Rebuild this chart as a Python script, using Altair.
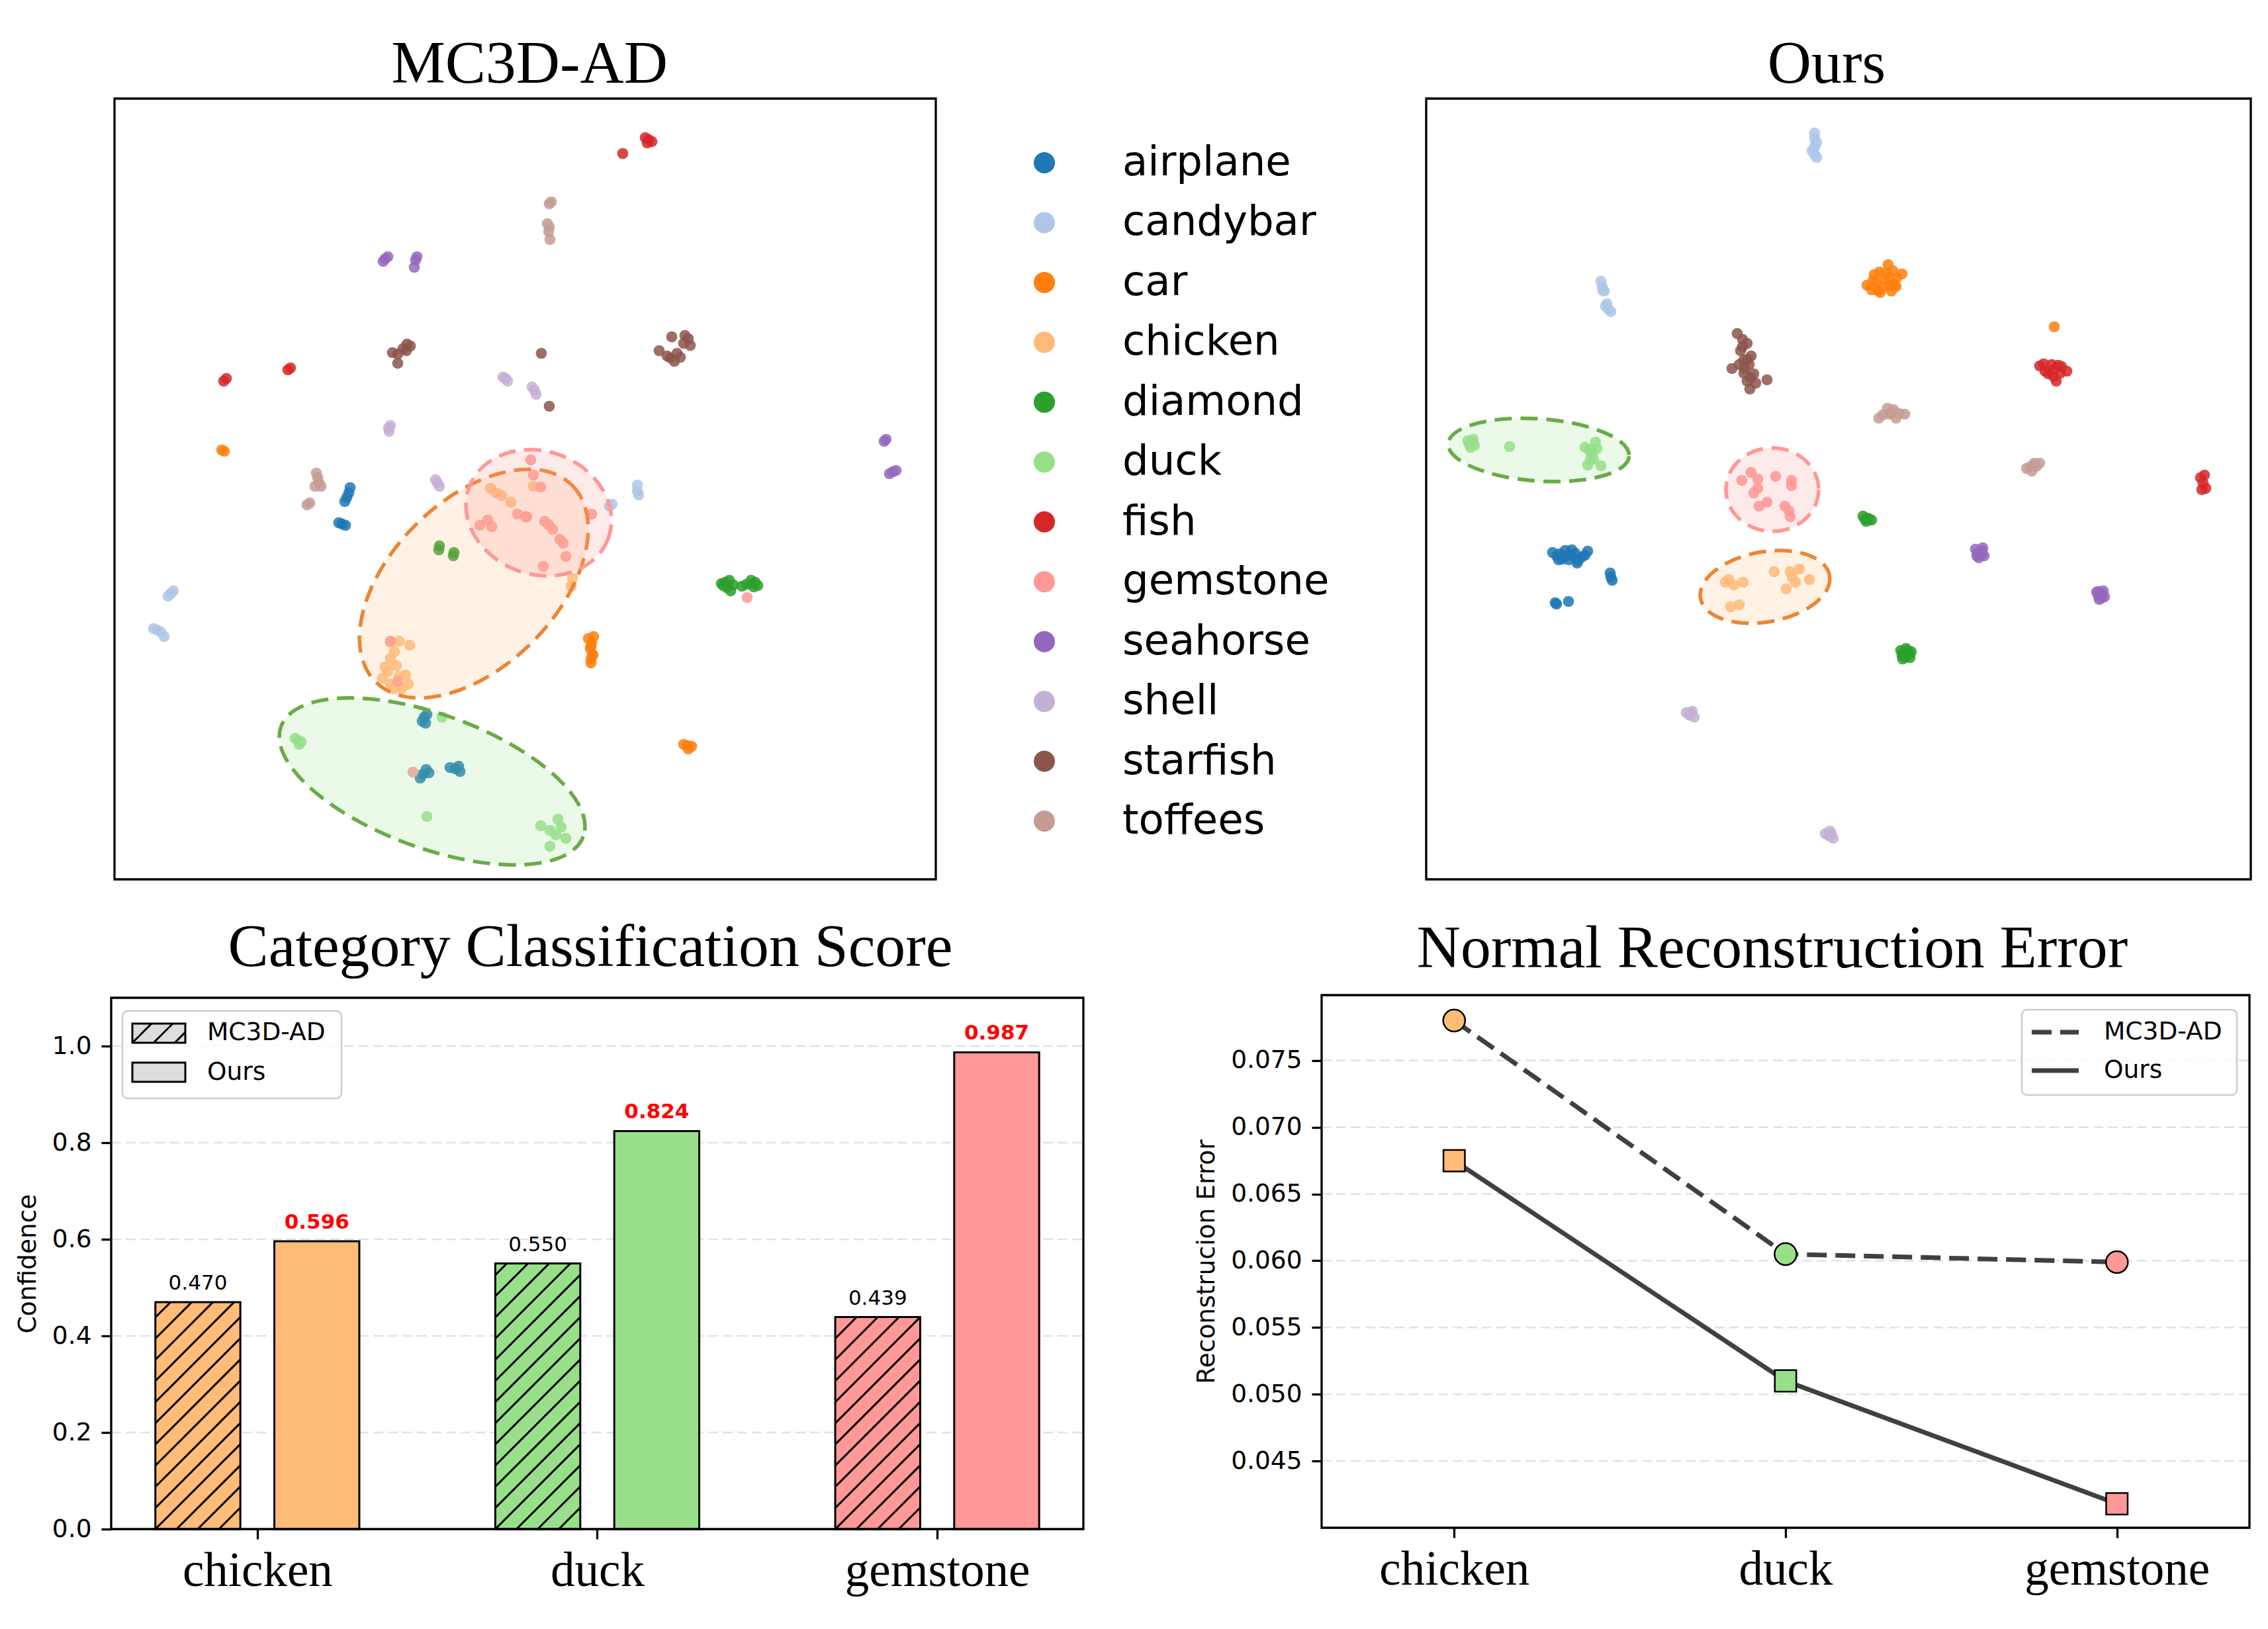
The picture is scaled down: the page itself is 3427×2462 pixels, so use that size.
import json
import altair as alt
import pandas as pd

# ---------------------------------------------------------------- data
CATS = ["airplane", "candybar", "car", "chicken", "diamond", "duck",
        "fish", "gemstone", "seahorse", "shell", "starfish", "toffees"]
PALETTE = ["#1f77b4", "#aec7e8", "#ff7f0e", "#ffbb78", "#2ca02c", "#98df8a",
           "#d62728", "#ff9896", "#9467bd", "#c5b0d5", "#8c564b", "#c49c94"]

# t-SNE embedding, MC3D-AD panel: (x, y) per sample
MC3D_AIRPLANE = [(35.4, 58.4), (35.6, 59.2), (35.1, 57.7), (34.8, 57.1), (34.4, 53.7), (34.9, 53.5), (33.9, 53.9),
                 (46.8, 24.5), (47.2, 24.9), (46.5, 23.9), (47.0, 23.6), (46.6, 15.9), (47.1, 16.6), (46.2, 15.3),
                 (47.5, 16.1), (51.5, 16.7), (50.7, 16.9), (52.2, 16.3), (52.0, 17.1)]
MC3D_CANDYBAR = [(8.5, 43.2), (8.9, 43.6), (8.1, 42.8), (6.4, 37.7), (5.9, 37.9), (7.0, 37.4), (7.5, 36.7),
                 (79.0, 58.7), (79.0, 59.6), (79.2, 58.1), (74.8, 56.4), (75.2, 56.7)]
MC3D_CAR = [(16.2, 64.9), (16.6, 64.7), (72.1, 35.8), (71.9, 34.9), (72.3, 33.9), (72.0, 32.7), (71.6, 36.4),
            (72.4, 36.7), (72.0, 35.2), (72.2, 34.0), (72.0, 33.3),
            (86.6, 20.2), (86.0, 20.4), (87.2, 20.1), (86.7, 19.7)]
MC3D_CHICKEN = [(41.7, 35.8), (43.0, 36.0), (44.6, 35.4), (41.7, 33.4), (42.6, 32.3), (40.9, 32.1), (43.0, 30.7),
                (40.5, 30.4), (44.0, 30.9), (41.7, 29.5), (44.4, 29.5), (43.4, 28.8), (42.1, 28.8), (42.3, 34.4),
                (41.3, 31.4), (56.8, 59.1), (58.5, 58.0), (59.9, 57.0), (63.3, 59.4), (69.2, 45.5), (69.0, 44.3),
                (57.7, 58.4)]
MC3D_DIAMOND = [(49.0, 49.8), (49.1, 50.4), (51.2, 48.9), (51.3, 49.4), (92.3, 44.9), (91.7, 44.7), (92.9, 45.2),
                (93.1, 43.6), (92.5, 44.1), (96.8, 44.9), (96.2, 45.2), (97.2, 44.4), (96.6, 44.2), (94.8, 44.3),
                (92.0, 44.4), (96.4, 44.7), (93.5, 44.5), (95.5, 44.6)]
MC3D_DUCK = [(27.7, 21.0), (27.3, 21.3), (28.2, 20.8), (27.9, 20.4), (49.5, 24.5), (47.2, 9.5), (65.8, 7.4),
             (67.0, 9.1), (68.2, 6.2), (64.4, 8.1), (65.8, 5.0), (67.5, 7.9), (66.7, 6.7)]
MC3D_FISH = [(16.5, 75.3), (16.9, 75.7), (26.2, 77.0), (26.6, 77.3), (80.7, 111.8), (80.2, 112.1), (81.2, 111.5),
             (80.5, 111.3), (76.8, 109.7)]
MC3D_GEMSTONE = [(60.9, 55.2), (62.1, 54.8), (56.4, 54.3), (55.2, 53.5), (57.0, 53.3), (62.3, 54.8), (65.0, 54.1),
                 (66.2, 52.9), (67.8, 50.8), (68.2, 48.8), (72.1, 55.2), (64.8, 47.3), (64.4, 59.3), (62.9, 63.4),
                 (63.3, 61.1), (67.3, 51.4), (65.6, 53.6), (41.7, 36.0), (42.8, 29.9), (45.1, 16.2), (95.6, 42.6)]
MC3D_SEAHORSE = [(40.9, 93.8), (41.3, 94.1), (40.6, 93.4), (45.5, 93.6), (45.3, 92.5), (45.7, 94.1),
                 (116.3, 66.2), (116.6, 66.5), (117.6, 61.6), (117.1, 61.3), (118.1, 61.8)]
MC3D_SHELL = [(59.1, 75.7), (58.7, 75.9), (59.4, 75.3), (63.5, 73.9), (63.1, 74.4), (63.7, 73.3),
              (41.4, 68.2), (41.7, 68.6), (41.5, 67.7), (48.8, 59.9), (48.5, 60.4), (49.1, 59.4)]
MC3D_STARFISH = [(43.6, 80.2), (42.8, 79.4), (42.0, 79.6), (44.2, 80.9), (44.7, 80.6), (42.8, 78.0), (44.1, 79.9),
                 (64.5, 79.5), (86.2, 82.2), (86.7, 81.7), (87.0, 80.7), (84.2, 82.0), (82.3, 79.9), (83.5, 79.1),
                 (84.6, 78.3), (85.5, 78.9), (85.0, 79.5), (84.0, 78.8), (86.0, 81.0), (65.7, 71.5)]
MC3D_TOFFEES = [(30.7, 60.7), (30.5, 61.4), (30.9, 59.9), (30.3, 59.4), (31.2, 59.4), (29.1, 56.6), (29.5, 56.9),
                (65.7, 102.1), (66.0, 102.4), (65.6, 97.9), (65.4, 99.1), (65.8, 96.7), (65.7, 98.6)]

# t-SNE embedding, Ours panel
OURS_AIRPLANE = [(21.9, 49.0), (19.1, 49.4), (24.4, 49.6), (22.8, 47.8), (20.5, 48.4), (21.0, 49.7), (23.5, 48.7),
                 (19.7, 48.9), (20.2, 49.2), (22.5, 49.3), (23.0, 48.2), (21.5, 48.3), (24.0, 49.0), (20.0, 48.3),
                 (22.0, 49.8), (21.2, 48.9),
                 (27.9, 45.7), (27.8, 46.3), (28.1, 45.2), (19.5, 41.8), (21.5, 42.0), (19.7, 41.6)]
OURS_CANDYBAR = [(58.7, 112.0), (58.7, 112.8), (59.0, 111.4), (58.8, 111.0), (58.6, 110.5), (58.7, 109.5),
                 (58.3, 110.1), (59.0, 109.1), (26.6, 89.6), (26.4, 90.4), (26.9, 88.9), (26.7, 89.0),
                 (27.5, 86.2), (27.1, 86.6), (27.9, 85.8), (27.3, 87.0)]
OURS_CAR = [(69.2, 90.6), (66.6, 89.8), (71.9, 91.5), (68.6, 88.7), (69.8, 92.9), (67.7, 91.4), (70.7, 89.9),
            (67.3, 89.1), (70.3, 88.9), (71.1, 90.9), (68.0, 90.2), (70.0, 91.0), (69.0, 89.5), (68.5, 91.8),
            (70.5, 92.0), (67.5, 90.5), (69.5, 91.6), (71.0, 89.6), (68.2, 89.0), (70.0, 89.8), (94.9, 83.5)]
OURS_CHICKEN = [(45.2, 44.9), (47.9, 44.9), (46.0, 41.2), (52.6, 46.5), (55.0, 46.5), (55.8, 44.9), (57.9, 45.3),
                (54.4, 43.9), (56.4, 46.9), (45.7, 45.3), (47.3, 41.5), (46.5, 44.5), (55.3, 45.7)]
OURS_DIAMOND = [(66.6, 54.6), (66.0, 54.9), (67.3, 54.3), (66.5, 54.1), (66.9, 54.5), (66.3, 54.4),
                (72.5, 34.0), (71.7, 34.6), (73.3, 34.4), (72.0, 33.3), (73.1, 33.5), (72.5, 34.9),
                (72.0, 34.2), (73.0, 34.0), (72.4, 33.6), (72.8, 34.6), (71.9, 33.8)]
OURS_DUCK = [(6.8, 65.9), (6.3, 66.3), (7.3, 65.6), (6.7, 65.3), (7.1, 66.5), (6.5, 65.8), (7.0, 66.0),
             (12.6, 65.4), (24.6, 64.9), (25.6, 66.1), (24.0, 65.3), (25.1, 64.3), (26.4, 62.5), (24.4, 62.6),
             (25.8, 65.1), (25.0, 65.0), (25.3, 63.5), (24.8, 63.5)]
OURS_FISH = [(94.7, 77.0), (92.7, 77.6), (96.8, 76.8), (95.2, 75.3), (94.0, 76.4), (95.5, 77.7), (93.5, 76.8),
             (95.8, 76.5), (94.5, 77.8), (94.8, 76.0), (96.0, 77.5), (93.3, 77.9),
             (117.4, 59.9), (117.0, 60.7), (117.8, 59.1), (117.2, 58.9), (117.6, 61.1)]
OURS_GEMSTONE = [(49.1, 61.5), (47.7, 60.3), (50.1, 60.5), (52.8, 60.9), (55.2, 60.3), (50.1, 59.1), (55.2, 59.5),
                 (50.3, 56.4), (51.5, 57.0), (54.2, 56.4), (55.0, 54.8), (49.5, 58.4), (54.8, 55.7)]
OURS_SEAHORSE = [(83.7, 49.4), (83.0, 49.9), (84.3, 48.9), (83.5, 48.6), (84.1, 50.1), (83.4, 49.3), (83.9, 49.0),
                 (84.0, 49.7), (83.2, 48.9), (101.9, 43.0), (101.3, 43.4), (102.5, 42.7), (101.7, 42.3),
                 (102.3, 43.6), (101.6, 42.8), (102.1, 43.2), (102.0, 42.5), (101.5, 43.5)]
OURS_SHELL = [(39.9, 24.9), (39.3, 25.2), (40.5, 24.5), (40.2, 25.4), (39.8, 24.8), (40.0, 25.1),
              (60.9, 6.6), (60.3, 6.9), (61.5, 6.2), (61.0, 7.3), (60.8, 6.7), (61.2, 6.9)]
OURS_STARFISH = [(47.0, 82.5), (48.5, 81.0), (49.1, 79.1), (48.1, 77.2), (48.5, 75.3), (46.2, 77.2), (51.5, 75.5),
                 (48.9, 74.1), (47.5, 79.9), (49.5, 76.4), (47.8, 80.5), (48.0, 78.5), (48.8, 77.8), (47.3, 77.8),
                 (49.0, 75.8), (49.8, 75.0), (48.0, 76.5), (47.8, 81.6), (48.6, 78.6)]
OURS_TOFFEES = [(70.3, 70.5), (68.4, 69.7), (72.3, 70.3), (69.7, 71.2), (71.0, 69.7), (70.0, 70.3), (71.5, 70.4),
                (69.0, 70.2), (70.6, 71.0), (91.7, 62.6), (90.7, 62.1), (92.7, 62.9), (91.5, 61.7),
                (91.2, 62.3), (92.2, 62.4), (91.9, 62.9)]

# highlighted regions: (category, centre x, centre y, semi-major, semi-minor, rotation deg)
MC3D_REGIONS = [("duck", 48.0, 14.8, 24.3, 10.1, 20), ("chicken", 54.3, 44.7, 21.0, 12.5, 315),
                ("gemstone", 64.1, 55.4, 11.2, 9.3, 20)]
OURS_REGIONS = [("duck", 17.0, 64.9, 13.7, 4.7, 4), ("gemstone", 52.3, 58.9, 7.0, 6.3, 0),
                ("chicken", 51.2, 44.2, 9.9, 5.3, 350)]

BAR_CATS = ["chicken", "duck", "gemstone"]
BAR_MC3D = [0.470, 0.550, 0.439]
BAR_OURS = [0.596, 0.824, 0.987]
BAR_YTICKS = [0.0, 0.2, 0.4, 0.6, 0.8, 1.0]

ERR_MC3D = [0.0780, 0.0605, 0.0599]
ERR_OURS = [0.0675, 0.0510, 0.0418]
ERR_YTICKS = [0.045, 0.050, 0.055, 0.060, 0.065, 0.070, 0.075]

# ---------------------------------------------------------------- layout (view pixels)
VIEW_W, VIEW_H = 3405, 2440
TL_BOX = (165, 1406, 141, 1321)     # x0, x1, ytop, ybottom
TR_BOX = (2147, 3393, 141, 1321)
BL_BOX = (160, 1629, 1500, 2303)
BR_BOX = (1989, 3391, 1496, 2301)
TSNE_XDOM_L = [0, 124.1]
TSNE_XDOM_R = [0, 124.6]
TSNE_YDOM = [0, 118]
BAR_XDOM = [-0.43, 2.43]
BAR_YDOM = [0, 1.1]
ERR_XDOM = [-0.4, 2.4]
ERR_YDOM = [0.0400, 0.0799]
BAR_OFFSET, BAR_WIDTH = 0.175, 0.25

SERIF = "Liberation Serif"
SANS = "DejaVu Sans"
COLOR = alt.Scale(domain=CATS, range=PALETTE)
REGION_STYLE = {"chicken": ("#ffbb78", "#ee8533"), "gemstone": ("#ff9896", "#ff9896"),
                "duck": ("#98df8a", "#6aab46")}


def xs(dom, box):
    return alt.Scale(domain=dom, range=[box[0], box[1]], nice=False, zero=False)


def ys(dom, box):
    return alt.Scale(domain=dom, range=[box[3], box[2]], nice=False, zero=False)


def one():
    return pd.DataFrame({"k": [0]})


def tsne_df(lists):
    rows = []
    for cat, pts in zip(CATS, lists):
        for x, y in pts:
            rows.append({"cat": cat, "x": x, "y": y})
    return pd.DataFrame(rows)


def scatter(df, xdom, box):
    return alt.Chart(df).mark_circle(size=280, opacity=0.85).encode(
        x=alt.X("x:Q", scale=xs(xdom, box), axis=None),
        y=alt.Y("y:Q", scale=ys(TSNE_YDOM, box), axis=None),
        color=alt.Color("cat:N", scale=COLOR, legend=None),
    )


def ellipse(region, xdom, box):
    cat, cx, cy, a, b, ang = region
    ppu = (box[1] - box[0]) / (xdom[1] - xdom[0])
    r = b / a
    k = 0.5523
    path = (f"M 1 0 C 1 {k*r:.4f} {k:.4f} {r:.4f} 0 {r:.4f} "
            f"C {-k:.4f} {r:.4f} -1 {k*r:.4f} -1 0 "
            f"C -1 {-k*r:.4f} {-k:.4f} {-r:.4f} 0 {-r:.4f} "
            f"C {k:.4f} {-r:.4f} 1 {-k*r:.4f} 1 0 Z")
    fill, stroke = REGION_STYLE[cat]
    return alt.Chart(pd.DataFrame({"x": [cx], "y": [cy]})).mark_point(
        shape=path, size=(2 * a * ppu) ** 2, angle=ang, filled=True, fill=fill, fillOpacity=0.2,
        stroke=stroke, strokeOpacity=1, strokeWidth=5.5, strokeDash=[26, 13], opacity=1,
    ).encode(
        x=alt.X("x:Q", scale=xs(xdom, box), axis=None),
        y=alt.Y("y:Q", scale=ys(TSNE_YDOM, box), axis=None),
    )


def frame(box):
    return alt.Chart(one()).mark_rect(fill="white", fillOpacity=0, stroke="black", strokeWidth=3.3).encode(
        x=alt.value(box[0]), x2=alt.value(box[1]), y=alt.value(box[2]), y2=alt.value(box[3]))


def text(t, x, y, size, font, **kw):
    opts = dict(align="center", baseline="alphabetic", color="black")
    opts.update(kw)
    return alt.Chart(pd.DataFrame({"t": [t]})).mark_text(font=font, fontSize=size, **opts).encode(
        x=alt.value(x), y=alt.value(y), text="t:N")


def hatch_uv(w, h, step=32.0):
    segs = []
    kmin = int(-h // step) - 1
    kmax = int(w // step) + 1
    for kk in range(kmin, kmax + 1):
        c = kk * step
        u0, u1 = max(0.0, c), min(w, h + c)
        if u1 - u0 > 1.5:
            segs.append((u0, u0 - c, u1, u1 - c))
    return segs


layers = []

# ---------------------------------------------------------------- scatter panels
mc3d_df = tsne_df([MC3D_AIRPLANE, MC3D_CANDYBAR, MC3D_CAR, MC3D_CHICKEN, MC3D_DIAMOND, MC3D_DUCK, MC3D_FISH,
                   MC3D_GEMSTONE, MC3D_SEAHORSE, MC3D_SHELL, MC3D_STARFISH, MC3D_TOFFEES])
ours_df = tsne_df([OURS_AIRPLANE, OURS_CANDYBAR, OURS_CAR, OURS_CHICKEN, OURS_DIAMOND, OURS_DUCK, OURS_FISH,
                   OURS_GEMSTONE, OURS_SEAHORSE, OURS_SHELL, OURS_STARFISH, OURS_TOFFEES])
layers.append(scatter(mc3d_df, TSNE_XDOM_L, TL_BOX))
layers.append(scatter(ours_df, TSNE_XDOM_R, TR_BOX))
for reg in MC3D_REGIONS:
    layers.append(ellipse(reg, TSNE_XDOM_L, TL_BOX))
for reg in OURS_REGIONS:
    layers.append(ellipse(reg, TSNE_XDOM_R, TR_BOX))
layers += [frame(TL_BOX), frame(TR_BOX)]
layers.append(text("MC3D-AD", 792, 117, 91.7, SERIF))
layers.append(text("Ours", 2752, 117, 91.7, SERIF))

# category legend
leg_df = pd.DataFrame({"cat": CATS})
leg_y = alt.Scale(type="point", domain=CATS, range=[238, 1233], padding=0)
layers.append(alt.Chart(leg_df).mark_circle(size=1024, opacity=1).encode(
    x=alt.value(1570), y=alt.Y("cat:N", scale=leg_y, axis=None),
    color=alt.Color("cat:N", scale=COLOR, legend=None)))
layers.append(alt.Chart(leg_df).mark_text(align="left", baseline="middle", font=SANS, fontSize=62.5,
                                          color="black").encode(
    x=alt.value(1688), y=alt.Y("cat:N", scale=leg_y, axis=None), text="cat:N"))

# ---------------------------------------------------------------- bar chart
label_expr = json.dumps(BAR_CATS) + "[datum.value]"
bar_x = xs(BAR_XDOM, BL_BOX)
bar_y = ys(BAR_YDOM, BL_BOX)
rows = []
for i, c in enumerate(BAR_CATS):
    for meth, vals, off in (("MC3D-AD", BAR_MC3D, -BAR_OFFSET), ("Ours", BAR_OURS, BAR_OFFSET)):
        rows.append({"cat": c, "method": meth, "value": vals[i], "xc": i + off,
                     "x0": i + off - BAR_WIDTH / 2, "x1": i + off + BAR_WIDTH / 2,
                     "label": f"{vals[i]:.3f}"})
bars = pd.DataFrame(rows)

layers.append(alt.Chart(pd.DataFrame({"v": BAR_YTICKS[1:]})).mark_rule(
    color="#e2e2e2", strokeWidth=2.5, strokeDash=[15, 7]).encode(
    y=alt.Y("v:Q", scale=bar_y, axis=None), x=alt.value(BL_BOX[0]), x2=alt.value(BL_BOX[1])))

layers.append(alt.Chart(bars).mark_rect(stroke="black", strokeWidth=3, opacity=1).encode(
    x=alt.X("x0:Q", scale=bar_x, axis=alt.Axis(
        orient="bottom", offset=BL_BOX[3] - VIEW_H, values=[0, 1, 2], labelExpr=label_expr, title=None,
        grid=False, domain=False, tickSize=15, tickWidth=3.3, tickColor="black", labelFont=SERIF,
        labelFontSize=73, labelColor="black", labelPadding=12, labelLimit=2000)),
    x2="x1:Q",
    y=alt.Y("value:Q", scale=bar_y, axis=alt.Axis(
        orient="left", offset=-BL_BOX[0], values=BAR_YTICKS, format=".1f", title="Confidence",
        titleFont=SANS, titleFontSize=37.5, titleFontWeight="normal", titleColor="black", titlePadding=17,
        grid=False, domain=False, tickSize=15, tickWidth=3.3, tickColor="black", labelFont=SANS,
        labelFontSize=37.5, labelColor="black", labelPadding=15, labelLimit=2000)),
    y2=alt.datum(0),
    color=alt.Color("cat:N", scale=COLOR, legend=None),
))

ppx = (BL_BOX[1] - BL_BOX[0]) / (BAR_XDOM[1] - BAR_XDOM[0])
ppy = (BL_BOX[3] - BL_BOX[2]) / (BAR_YDOM[1] - BAR_YDOM[0])
hrows = []
for _, r in bars[bars["method"] == "MC3D-AD"].iterrows():
    for u0, v0, u1, v1 in hatch_uv(BAR_WIDTH * ppx, r["value"] * ppy):
        hrows.append({"x": r["x0"] + u0 / ppx, "y": v0 / ppy, "x2": r["x0"] + u1 / ppx, "y2": v1 / ppy})
layers.append(alt.Chart(pd.DataFrame(hrows)).mark_rule(color="black", strokeWidth=3).encode(
    x=alt.X("x:Q", scale=bar_x, axis=None), x2="x2:Q",
    y=alt.Y("y:Q", scale=bar_y, axis=None), y2="y2:Q"))

layers.append(alt.Chart(bars[bars["method"] == "MC3D-AD"]).mark_text(
    font=SANS, fontSize=31, baseline="alphabetic", dy=-19, color="black").encode(
    x=alt.X("xc:Q", scale=bar_x, axis=None), y=alt.Y("value:Q", scale=bar_y, axis=None), text="label:N"))
layers.append(alt.Chart(bars[bars["method"] == "Ours"]).mark_text(
    font=SANS, fontSize=31, fontWeight="bold", baseline="alphabetic", dy=-19, color="#ff0000").encode(
    x=alt.X("xc:Q", scale=bar_x, axis=None), y=alt.Y("value:Q", scale=bar_y, axis=None), text="label:N"))
layers.append(frame(BL_BOX))
layers.append(text("Category Classification Score", 884, 1452, 91.7, SERIF))

# bar legend
layers.append(alt.Chart(one()).mark_rect(fill="white", fillOpacity=0.8, stroke="#cccccc", strokeWidth=2.5,
                                         cornerRadius=8).encode(
    x=alt.value(177), x2=alt.value(508), y=alt.value(1520), y2=alt.value(1652)))
for (y0, y1) in ((1539, 1568), (1598, 1627)):
    layers.append(alt.Chart(one()).mark_rect(fill="#dddddd", stroke="black", strokeWidth=3).encode(
        x=alt.value(192), x2=alt.value(272), y=alt.value(y0), y2=alt.value(y1)))
lh = [{"x": 192 + u0, "y": 1568 - v0, "x2": 192 + u1, "y2": 1568 - v1} for u0, v0, u1, v1 in hatch_uv(80, 29)]
layers.append(alt.Chart(pd.DataFrame(lh)).mark_rule(color="black", strokeWidth=3).encode(
    x=alt.X("x:Q", scale=None), x2="x2:Q", y=alt.Y("y:Q", scale=None), y2="y2:Q"))
layers.append(text("MC3D-AD", 305, 1553, 37.5, SANS, align="left", baseline="middle"))
layers.append(text("Ours", 305, 1613, 37.5, SANS, align="left", baseline="middle"))

# ---------------------------------------------------------------- line chart
err_x = xs(ERR_XDOM, BR_BOX)
err_y = ys(ERR_YDOM, BR_BOX)
err_m = pd.DataFrame({"cat": BAR_CATS, "pos": [0, 1, 2], "value": ERR_MC3D})
err_o = pd.DataFrame({"cat": BAR_CATS, "pos": [0, 1, 2], "value": ERR_OURS})

layers.append(alt.Chart(pd.DataFrame({"v": ERR_YTICKS})).mark_rule(
    color="#e2e2e2", strokeWidth=2.5, strokeDash=[15, 7]).encode(
    y=alt.Y("v:Q", scale=err_y, axis=None), x=alt.value(BR_BOX[0]), x2=alt.value(BR_BOX[1])))

layers.append(alt.Chart(err_m).mark_line(color="#404040", strokeWidth=7, strokeDash=[30, 13]).encode(
    x=alt.X("pos:Q", scale=err_x, axis=alt.Axis(
        orient="bottom", offset=BR_BOX[3] - VIEW_H, values=[0, 1, 2], labelExpr=label_expr, title=None,
        grid=False, domain=False, tickSize=15, tickWidth=3.3, tickColor="black", labelFont=SERIF,
        labelFontSize=73, labelColor="black", labelPadding=12, labelLimit=2000)),
    y=alt.Y("value:Q", scale=err_y, axis=alt.Axis(
        orient="left", offset=-BR_BOX[0], values=ERR_YTICKS, format=".3f", title="Reconstrucion Error",
        titleFont=SANS, titleFontSize=37.5, titleFontWeight="normal", titleColor="black", titlePadding=17,
        grid=False, domain=False, tickSize=15, tickWidth=3.3, tickColor="black", labelFont=SANS,
        labelFontSize=37.5, labelColor="black", labelPadding=15, labelLimit=2000)),
))
layers.append(alt.Chart(err_o).mark_line(color="#404040", strokeWidth=7).encode(
    x=alt.X("pos:Q", scale=err_x, axis=None), y=alt.Y("value:Q", scale=err_y, axis=None)))
layers.append(alt.Chart(err_m).mark_point(shape="circle", filled=True, size=1100, stroke="black",
                                          strokeWidth=2.5, opacity=1).encode(
    x=alt.X("pos:Q", scale=err_x, axis=None), y=alt.Y("value:Q", scale=err_y, axis=None),
    fill=alt.Fill("cat:N", scale=COLOR, legend=None)))
layers.append(alt.Chart(err_o).mark_point(shape="square", filled=True, size=1050, stroke="black",
                                          strokeWidth=2.5, opacity=1).encode(
    x=alt.X("pos:Q", scale=err_x, axis=None), y=alt.Y("value:Q", scale=err_y, axis=None),
    fill=alt.Fill("cat:N", scale=COLOR, legend=None)))
layers.append(frame(BR_BOX))
layers.append(text("Normal Reconstruction Error", 2670, 1454, 91.7, SERIF))

# line legend
layers.append(alt.Chart(one()).mark_rect(fill="white", fillOpacity=0.8, stroke="#cccccc", strokeWidth=2.5,
                                         cornerRadius=8).encode(
    x=alt.value(3047), x2=alt.value(3372), y=alt.value(1518), y2=alt.value(1647)))
layers.append(alt.Chart(one()).mark_rule(color="#404040", strokeWidth=7, strokeDash=[30, 13]).encode(
    x=alt.value(3062), x2=alt.value(3133), y=alt.value(1552)))
layers.append(alt.Chart(one()).mark_rule(color="#404040", strokeWidth=7).encode(
    x=alt.value(3062), x2=alt.value(3133), y=alt.value(1610)))
layers.append(text("MC3D-AD", 3171, 1552, 37.5, SANS, align="left", baseline="middle"))
layers.append(text("Ours", 3171, 1610, 37.5, SANS, align="left", baseline="middle"))

chart = alt.layer(*layers).resolve_scale(
    x="independent", y="independent"
).properties(
    width=VIEW_W, height=VIEW_H, autosize=alt.AutoSizeParams(type="none"), padding=0
).configure_view(strokeWidth=0)

chart.save("out.html", embed_options={"renderer": "svg", "actions": False})
